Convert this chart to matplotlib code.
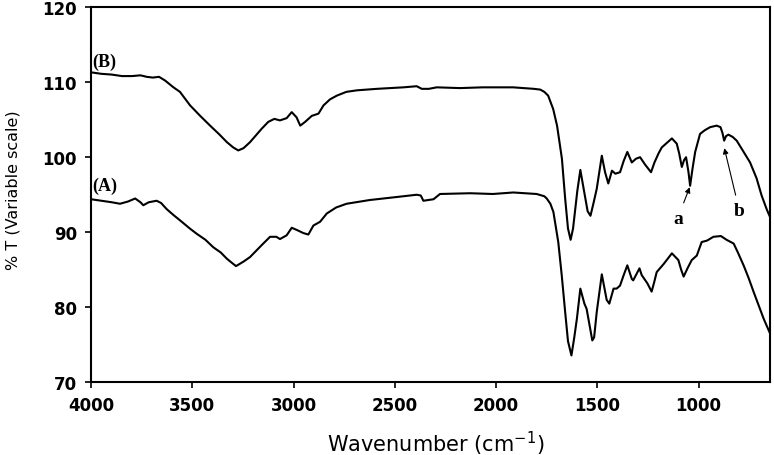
import matplotlib.pyplot as plt

# Spectrum (B)
wn_b = [4000, 3949, 3898, 3847, 3797, 3756, 3725, 3695, 3664, 3634, 3593, 3561, 3511, 3461, 3412,
        3369, 3329, 3298, 3273, 3247, 3215, 3186, 3157, 3125, 3095, 3067, 3034, 3009, 2985, 2967,
        2943, 2910, 2877, 2852, 2820, 2786, 2739, 2688, 2589, 2458, 2392, 2367, 2332, 2293, 2178,
        2067, 1916, 1813, 1782, 1762, 1743, 1718, 1699, 1675, 1659, 1645, 1632, 1620, 1599, 1584,
        1569, 1548, 1534, 1518, 1503, 1478, 1462, 1446, 1428, 1411, 1388, 1370, 1352, 1330, 1309,
        1289, 1264, 1235, 1218, 1198, 1182, 1157, 1132, 1108, 1096, 1083, 1072, 1062, 1050, 1042,
        1030, 1017, 993, 969, 943, 911, 892, 882, 874, 865, 853, 832, 812, 780, 746,
        714, 689, 663, 650]
t_b = [111.3, 111.1, 111.0, 110.8, 110.8, 110.9, 110.7, 110.6, 110.7, 110.2, 109.3, 108.7, 106.9, 105.5, 104.2,
       103.1, 102.0, 101.3, 100.9, 101.2, 102.0, 102.9, 103.8, 104.7, 105.1, 104.9, 105.2, 106.0, 105.3, 104.2,
       104.7, 105.5, 105.8, 106.9, 107.7, 108.2, 108.7, 108.9, 109.1, 109.3, 109.45, 109.1, 109.1, 109.3, 109.2,
       109.3, 109.3, 109.1, 109.0, 108.7, 108.2, 106.4, 104.2, 99.8, 94.5, 90.5, 89.0, 90.5, 95.5, 98.3,
       96.0, 92.8, 92.2, 94.0, 95.8, 100.2, 98.0, 96.5, 98.2, 97.8, 98.0, 99.5, 100.7, 99.3, 99.8,
       100.0, 99.0, 98.0, 99.3, 100.5, 101.3, 101.9, 102.5, 101.8, 100.5, 98.7, 99.6, 100.0, 98.0, 96.2,
       98.5, 100.7, 103.1, 103.6, 104.0, 104.2, 104.0, 103.2, 102.2, 102.8, 103.0, 102.7, 102.2, 100.8, 99.3,
       97.2, 94.9, 93.0, 92.2]

# Spectrum (A)
wn_a = [4000, 3949, 3898, 3857, 3817, 3782, 3756, 3742, 3715, 3676, 3654, 3627, 3593, 3561, 3512,
        3478, 3435, 3396, 3359, 3330, 3303, 3284, 3247, 3215, 3186, 3157, 3116, 3085, 3067, 3034,
        3009, 2983, 2952, 2927, 2902, 2869, 2836, 2790, 2738, 2623, 2490, 2392, 2372, 2359, 2309,
        2277, 2128, 2016, 1915, 1800, 1762, 1750, 1732, 1717, 1693, 1676, 1659, 1645, 1628, 1614,
        1601, 1584, 1564, 1553, 1525, 1516, 1503, 1478, 1454, 1441, 1420, 1405, 1388, 1370, 1352,
        1330, 1323, 1292, 1281, 1253, 1232, 1218, 1207, 1172, 1132, 1100, 1086, 1074, 1055, 1034,
        1009, 985, 958, 927, 890, 862, 827, 806, 778, 753, 729, 704, 679, 663, 650]
t_a = [94.4, 94.2, 94.0, 93.8, 94.1, 94.5, 94.0, 93.6, 94.0, 94.2, 93.9, 93.1, 92.3, 91.6, 90.5,
       89.8, 89.0, 88.0, 87.3, 86.5, 85.9, 85.5, 86.1, 86.7, 87.5, 88.3, 89.4, 89.4, 89.1, 89.6,
       90.6, 90.3, 89.9, 89.7, 90.9, 91.4, 92.5, 93.3, 93.8, 94.3, 94.7, 95.0, 94.9, 94.2, 94.4,
       95.1, 95.2, 95.1, 95.3, 95.1, 94.8, 94.5, 93.8, 92.7, 88.7, 84.3, 79.4, 75.5, 73.6, 76.0,
       78.5, 82.5, 80.5, 79.8, 75.6, 76.0, 79.4, 84.4, 81.0, 80.5, 82.5, 82.5, 82.9, 84.3, 85.6,
       83.8, 83.6, 85.2, 84.3, 83.2, 82.1, 83.5, 84.7, 85.8, 87.2, 86.3, 85.0, 84.1, 85.2, 86.3,
       86.9, 88.7, 88.9, 89.4, 89.5, 89.0, 88.5, 87.3, 85.6, 83.9, 82.1, 80.3, 78.5, 77.5, 76.7]

x_ticks = [4000, 3500, 3000, 2500, 2000, 1500, 1000]
y_ticks = [70, 80, 90, 100, 110, 120]

fig = plt.figure(figsize=(7.74, 4.56), dpi=100)
ax = fig.add_axes([0.1176, 0.159, 0.8766, 0.8235])

ax.plot(wn_b, t_b, color='black', linewidth=1.5)
ax.plot(wn_a, t_a, color='black', linewidth=1.5)

ax.set_xlim(4000, 650)
ax.set_ylim(70, 120)
ax.set_xticks(x_ticks)
ax.set_yticks(y_ticks)
for s in ax.spines.values():
    s.set_linewidth(1.5)
ax.tick_params(direction='out', length=4, width=1.2, pad=6, labelsize=12)
for lab in ax.get_xticklabels() + ax.get_yticklabels():
    lab.set_fontweight('bold')

ax.set_xlabel('Wavenumber (cm$^{\\mathregular{-1}}$)', fontsize=15)
ax.xaxis.set_label_coords(0.508, -0.122)
ax.set_ylabel('% T (Variable scale)', fontsize=11.5)
ax.yaxis.set_label_coords(-0.104, 0.515)

serif = dict(family='Liberation Serif', weight='bold')
ax.text(3992, 112.8, '(B)', fontsize=13, va='center', ha='left', **serif)
ax.text(3992, 96.3, '(A)', fontsize=13, va='center', ha='left', **serif)

arrow = dict(arrowstyle='-|>', color='black', lw=0.8, mutation_scale=8, shrinkA=3, shrinkB=0)
ax.annotate('a', xy=(1044, 96.0), xytext=(1103, 91.9), fontsize=14,
            ha='center', va='center', arrowprops=arrow, **serif)
ax.annotate('b', xy=(873, 101.2), xytext=(799, 92.9), fontsize=14,
            ha='center', va='center', arrowprops=arrow, **serif)

plt.savefig('out.png', dpi=100)
